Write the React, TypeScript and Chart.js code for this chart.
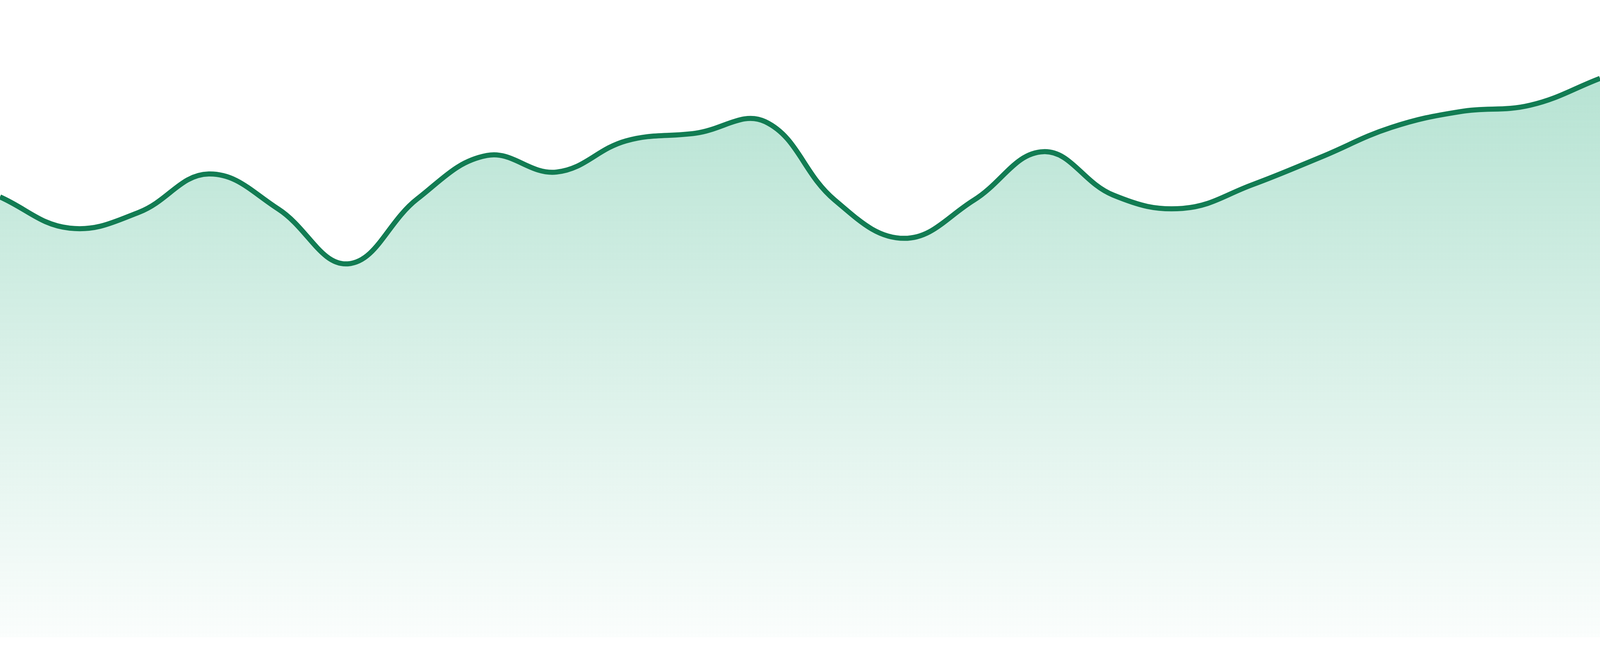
import { useEffect, useRef } from "react";
import Chart from "chart.js/auto";

// 24 points
const hours = [
  "00:00", "01:00", "02:00", "03:00", "04:00", "05:00", "06:00", "07:00",
  "08:00", "09:00", "10:00", "11:00", "12:00", "13:00", "14:00", "15:00",
  "16:00", "17:00", "18:00", "19:00", "20:00", "21:00", "22:00", "23:00",
];
const values = [
  69.1, 64.2, 66.7, 72.7, 67.2, 58.6, 68.8, 75.6,
  73.0, 77.9, 79.1, 80.9, 68.6, 62.6, 68.6, 76.2,
  69.4, 67.3, 71.0, 75.4, 80.0, 82.5, 83.5, 87.7,
];
const yMin = 0;
const yMax = 100;

export default function App() {
  const chartRef = useRef<HTMLCanvasElement>(null);
  const chartInstance = useRef<Chart | null>(null);

  useEffect(() => {
    const ctx = chartRef.current?.getContext("2d");
    if (!ctx) return;

    if (chartInstance.current) {
      chartInstance.current.destroy();
    }

    chartInstance.current = new Chart(ctx, {
      type: "line",
      data: {
        labels: hours,
        datasets: [
          {
            data: values,
            borderColor: "#127c53",
            borderWidth: 13,
            tension: 0.4,
            pointRadius: 0,
            fill: "start",
            backgroundColor: (c: any) => {
              const area = c.chart.chartArea;
              if (!area) return "rgba(16,163,110,0.2)";
              const g = c.chart.ctx.createLinearGradient(0, area.top, 0, area.bottom);
              g.addColorStop(0, "rgba(16,163,110,0.34)");
              g.addColorStop(1, "rgba(16,163,110,0.02)");
              return g;
            },
          },
        ],
      },
      options: {
        animation: false,
        responsive: true,
        maintainAspectRatio: false,
        layout: { padding: { top: 0, left: 0, right: 0, bottom: 48 } },
        plugins: {
          legend: { display: false },
          tooltip: { enabled: false },
        },
        scales: {
          x: { display: false, offset: false },
          y: { display: false, min: yMin, max: yMax },
        },
      },
    });

    return () => {
      chartInstance.current?.destroy();
    };
  }, []);

  return (
    <>
      <style>{"body{margin:0;background:#fff}"}</style>
      <div style={{ width: "100vw", height: "1680px" }}>
        <canvas ref={chartRef} />
      </div>
    </>
  );
}
